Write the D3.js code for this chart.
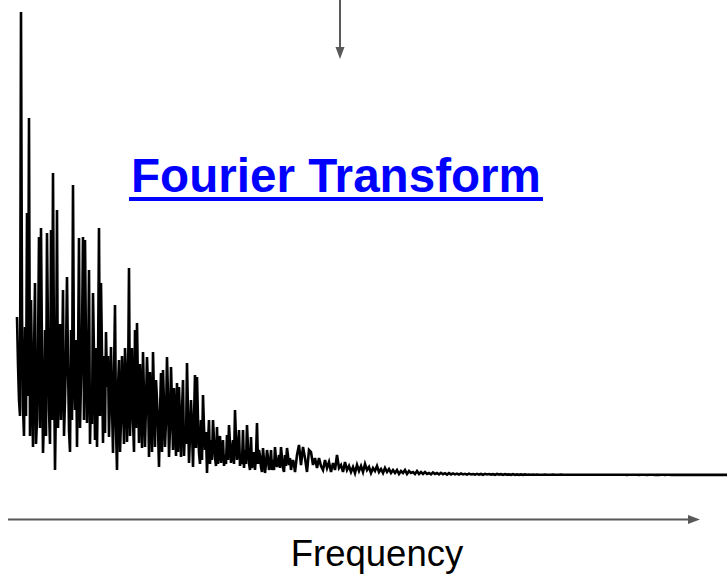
<!DOCTYPE html>
<html>
<head>
<meta charset="utf-8">
<script src="https://cdn.jsdelivr.net/npm/d3@7"></script>
<style>
  html, body { margin: 0; padding: 0; background: #ffffff; }
  svg { display: block; }
</style>
</head>
<body>
<svg id="chart" width="728" height="575"></svg>
<script>
// Low-frequency part of the spectrum, sampled at full resolution
const magnitudeLow = [
  39.75, 28, 19, 15, 116, 40, 17.25, 10, 37.25, 15, 65.75, 20, 89.5, 10, 44, 25, 7.25, 30, 48.25, 8,
  14, 30, 59.75, 12, 62, 30, 5.75, 15, 36.5, 10, 60.75, 35, 16.5, 8, 61.5, 14, 75.75, 30, 1.5, 20,
  66.5, 12, 24, 38, 14, 25, 46.5, 10, 19, 30, 49.75, 28, 11.5, 6, 36.5, 14, 72.75, 26, 16.5, 34,
  7.25, 28, 59.5, 12, 24, 35, 59.75, 14, 59, 32, 13.25, 24, 51.5, 8, 21.5, 13, 45.75, 30, 9, 32,
  7.25, 26, 62, 15, 48.25, 30, 8.25, 30, 10.75, 36, 22.25, 30, 9.75, 20, 32.25, 18, 5.75, 25, 42.75, 12,
  1.5, 22, 29, 6, 14, 30, 19, 8, 32, 26, 8.5, 20, 52, 10, 20.75, 32, 14, 6, 36.5, 12,
  38.25, 22, 8.25, 28, 19, 7, 31, 20, 7.25, 18, 29.75, 22, 4.75, 26, 16.5, 6, 31, 20, 7.25, 24,
  19, 12, 2.25, 16, 25.75, 6, 26.5, 18, 7.25, 14, 29.75, 20, 4.75, 12, 27.25, 18, 6.5, 22, 14, 5,
  23.25, 6, 22.25, 14, 4.75, 16, 24, 5, 11.5, 8, 28.25, 16, 3.25, 10, 19, 12, 2.25, 14, 25.25, 7,
  24.75, 14, 5.75, 3, 14, 4, 20.25, 12, 6.5, 11, 0.75, 8, 14, 3, 9, 4, 14, 9, 4.75, 2.5,
  12.25, 3, 7.75, 10, 3.25, 6, 9, 2.5, 5.25, 3, 10.25, 4, 12.75, 8, 3.25, 6, 9, 3, 16.5, 9,
  4, 7, 11.5, 2.5, 5.25, 3, 11.5, 2, 6.5, 3, 12.75, 7, 3.25, 1.5, 9.75, 2, 4.5, 6, 1.5, 5,
  13.25, 3, 6.5, 5, 2.25, 1, 7, 4, 0.75, 3, 6.5, 4.5, 1.5, 2.5, 6.5, 1.5, 4, 1.5, 7.25, 4,
  2.25, 3.5, 5.25, 2, 7.25, 4.5, 2, 1, 5.25, 2.5, 7, 5, 2.75, 4.5, 1.5, 3, 4, 3, 1
];

// Remainder of the spectrum, every second bin
const magnitudeHigh = [
  5.25, 7.75, 2.75, 7.25, 4.5, 1, 6.5, 6, 2.75, 4.5,
  2, 4.5, 2.5, 1.5, 4, 2, 3.5, 1, 3.25, 1.5,
  5.25, 2, 2.75, 1, 3.5, 1.5, 2.5, 1, 2.25, 0.75,
  2.75, 1.25, 2.5, 1, 3, 1.5, 2.25, 0.75, 2, 1.25,
  2.5, 1, 1.75, 0.75, 2, 1, 1.75, 0.75, 1.5, 0.75,
  1.5, 0.5, 1.25, 0.75, 1.5, 0.5, 1.25, 0.75, 1, 0.5,
  1.25, 0.5, 1, 0.5, 1, 0.5, 0.75, 0.4, 0.9, 0.5,
  0.75, 0.4, 0.8, 0.45, 0.7, 0.35, 0.75, 0.4, 0.65, 0.4,
  0.6, 0.35, 0.65, 0.4, 0.55, 0.35, 0.6, 0.4, 0.5, 0.35,
  0.55, 0.35, 0.5, 0.3, 0.55, 0.4, 0.5, 0.35, 0.45, 0.3,
  0.5, 0.35, 0.45, 0.3, 0.45, 0.35, 0.4, 0.3, 0.45, 0.3,
  0.4, 0.3, 0.4, 0.3, 0.4, 0.3, 0.38, 0.3, 0.36, 0.3,
  0.34, 0.3, 0.33, 0.31, 0.35, 0.3, 0.33, 0.31, 0.34, 0.3,
  0.33, 0.3, 0.34, 0.31, 0.33, 0.3, 0.32, 0.31, 0.33, 0.3,
  0.32, 0.3, 0.33, 0.31, 0.32, 0.3, 0.33, 0.3, 0.32, 0.31,
  0.32, 0.3, 0.31, 0.3, 0.32, 0.3, 0.31, 0.3, 0.32, 0.3,
  0.31, 0.3, 0.31, 0.3, 0.31, 0.29, 0.31, 0.3, 0.31, 0.3,
  0.3, 0.29, 0.31, 0.3, 0.3, 0.29, 0.3, 0.3, 0.31, 0.29,
  0.3, 0.29, 0.3, 0.3, 0.29, 0.3, 0.3, 0.29, 0.3, 0.29,
  0.3, 0.29, 0.3, 0.29, 0.3, 0.29, 0.29, 0.3, 0.29, 0.29,
  0.29, 0.3, 0.29, 0.29, 0.3, 0.29, 0.29, 0.29, 0.3, 0.29,
  0.29, 0.29, 0.3, 0.29, 0.29, 0.29
];

const titleText = "Fourier Transform";
const axisLabel = "Frequency";

const magnitude = magnitudeLow.concat(magnitudeHigh);
const nLow = magnitudeLow.length;

const svg = d3.select("#chart");
const grey = "#595959";

// Bin index -> page x (fine bins first, then coarser bins), magnitude -> page y
const x = d3.scaleLinear()
  .domain([0, nLow - 1, magnitude.length - 1])
  .range([17, 295, 727]);
const y = d3.scaleLinear().domain([0, 116]).range([476, 12]);

// Spectrum trace
const line = d3.line()
  .x((d, i) => x(i))
  .y(d => y(d));

svg.append("path")
  .datum(magnitude)
  .attr("d", line)
  .attr("fill", "none")
  .attr("stroke", "#000000")
  .attr("stroke-width", 2.6)
  .attr("stroke-linejoin", "miter");

// Arrow coming down from the top into the transform label
svg.append("line")
  .attr("x1", 340).attr("y1", 0)
  .attr("x2", 340).attr("y2", 49)
  .attr("stroke", grey).attr("stroke-width", 2);
svg.append("path")
  .attr("d", "M335.5,47 L344.5,47 L340,59 Z")
  .attr("fill", grey);

// Title with underline
svg.append("text")
  .attr("x", 131).attr("y", 192)
  .attr("font-family", "Liberation Sans, Arial, sans-serif")
  .attr("font-weight", "bold")
  .attr("font-size", 47.6)
  .attr("fill", "#0000ff")
  .text(titleText);
svg.append("rect")
  .attr("x", 129).attr("y", 197)
  .attr("width", 414).attr("height", 4)
  .attr("fill", "#0000ff");

// Frequency axis arrow
svg.append("line")
  .attr("x1", 8).attr("y1", 519.5)
  .attr("x2", 690).attr("y2", 519.5)
  .attr("stroke", grey).attr("stroke-width", 2);
svg.append("path")
  .attr("d", "M688,515 L700,519.5 L688,524 Z")
  .attr("fill", grey);

svg.append("text")
  .attr("x", 377).attr("y", 566)
  .attr("text-anchor", "middle")
  .attr("font-family", "Liberation Sans, Arial, sans-serif")
  .attr("font-size", 36.5)
  .attr("fill", "#000000")
  .text(axisLabel);
</script>
</body>
</html>
